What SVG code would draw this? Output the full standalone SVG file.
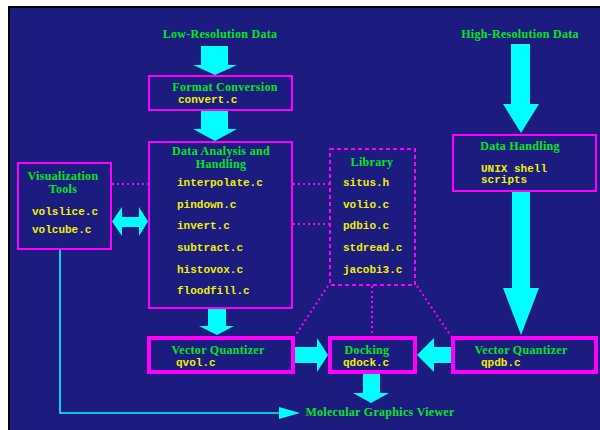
<svg xmlns="http://www.w3.org/2000/svg" width="600" height="430" viewBox="0 0 600 430">
<style>
.t{font-family:"Liberation Serif","Times New Roman",serif;font-weight:bold;font-size:12px;fill:#00e81c;text-anchor:middle;letter-spacing:0.3px}
.m{font-family:"Liberation Mono","Courier New",monospace;font-weight:bold;font-size:11px;fill:#f0f000}
.b{fill:none;stroke:#ff00ff;stroke-width:2}
.bk{fill:none;stroke:#ff00ff;stroke-width:4}
.lib{fill:none;stroke:#ff00ff;stroke-width:2;stroke-dasharray:4 3}
.dot{fill:none;stroke:#ff00ff;stroke-width:2;stroke-dasharray:2 3}
.ar{fill:#00ffff}
.thin{fill:none;stroke:#00ffff;stroke-width:1.6}
</style>
<rect x="0" y="0" width="600" height="430" fill="#ffffff"/>
<rect x="8" y="6" width="592" height="424" fill="#000000"/>
<rect x="10" y="8" width="590" height="422" fill="#1c1c80"/>

<g id="connectors">
<polygon class="ar" points="201,46 228,46 228,65 237,65 215,75 193,65 201,65"/>
<polygon class="ar" points="201,111 228,111 228,129 237,129 215,141 193,129 201,129"/>
<polygon class="ar" points="208,309 226,309 226,326 234,326 217,335 199,326 208,326"/>
<polygon class="ar" points="511,44 530,44 530,104 539,104 521,133 503,104 511,104"/>
<polygon class="ar" points="512,192 530,192 530,288 539,288 521,335 503,288 512,288"/>
<polygon class="ar" points="295,347 317,347 317,338 328,355 317,372 317,363 295,363"/>
<polygon class="ar" points="451,347 434,347 434,338 417,355 434,372 434,363 451,363"/>
<polygon class="ar" points="363,374 380,374 380,393 389,393 371,403 353,393 363,393"/>
<polygon class="ar" points="112,221.5 122,207 122,217 139,217 139,207 148,221.5 139,236 139,227 122,227 122,236"/>
<polyline class="thin" points="60,250 60,413 281,413"/>
<polygon class="ar" points="279,407 300,413 279,419"/>
<line class="dot" x1="112" y1="184" x2="148" y2="184"/>
<line class="dot" x1="293" y1="184" x2="329" y2="184"/>
<line class="dot" x1="293" y1="224" x2="329" y2="224"/>
<line class="dot" x1="328" y1="286" x2="295" y2="336"/>
<line class="dot" x1="372" y1="286" x2="372" y2="336"/>
<line class="dot" x1="417" y1="286" x2="451" y2="336"/>
</g>

<g id="low-res">
<text class="t" x="220" y="38">Low-Resolution Data</text>
</g>
<g id="high-res">
<text class="t" x="520" y="38">High-Resolution Data</text>
</g>

<g id="format-conversion">
<rect class="b" x="149" y="76" width="143" height="34"/>
<text class="t" x="225" y="91">Format Conversion</text>
<text class="m" x="178" y="103">convert.c</text>
</g>

<g id="data-analysis">
<rect class="b" x="149" y="142" width="143" height="166"/>
<text class="t" x="221" y="155">Data Analysis and</text>
<text class="t" x="221" y="168">Handling</text>
<text class="m" x="177" y="186">interpolate.c</text>
<text class="m" x="177" y="208">pindown.c</text>
<text class="m" x="177" y="229">invert.c</text>
<text class="m" x="177" y="251">subtract.c</text>
<text class="m" x="177" y="273">histovox.c</text>
<text class="m" x="177" y="294">floodfill.c</text>
</g>

<g id="visualization">
<rect class="b" x="18" y="163" width="93" height="86"/>
<text class="t" x="63" y="180">Visualization</text>
<text class="t" x="63" y="193">Tools</text>
<text class="m" x="32" y="215">volslice.c</text>
<text class="m" x="32" y="233">volcube.c</text>
</g>

<g id="library">
<rect class="lib" x="330" y="149" width="85" height="136"/>
<text class="t" x="372" y="166">Library</text>
<text class="m" x="343" y="186">situs.h</text>
<text class="m" x="343" y="208">volio.c</text>
<text class="m" x="343" y="229">pdbio.c</text>
<text class="m" x="343" y="251">stdread.c</text>
<text class="m" x="343" y="273">jacobi3.c</text>
</g>

<g id="data-handling">
<rect class="b" x="453" y="135" width="143" height="56"/>
<text class="t" x="520" y="150">Data Handling</text>
<text class="m" x="481" y="172">UNIX shell</text>
<text class="m" x="481" y="183">scripts</text>
</g>

<g id="vq-vol">
<rect class="bk" x="149" y="338" width="144" height="34"/>
<text class="t" x="218" y="354">Vector Quantizer</text>
<text class="m" x="176" y="366">qvol.c</text>
</g>

<g id="docking">
<rect class="bk" x="330" y="338" width="85" height="34"/>
<text class="t" x="367" y="354">Docking</text>
<text class="m" x="343" y="366">qdock.c</text>
</g>

<g id="vq-pdb">
<rect class="bk" x="453" y="338" width="143" height="34"/>
<text class="t" x="521" y="354">Vector Quantizer</text>
<text class="m" x="481" y="366">qpdb.c</text>
</g>

<g id="viewer">
<text class="t" x="380" y="416">Molecular Graphics Viewer</text>
</g>
</svg>
